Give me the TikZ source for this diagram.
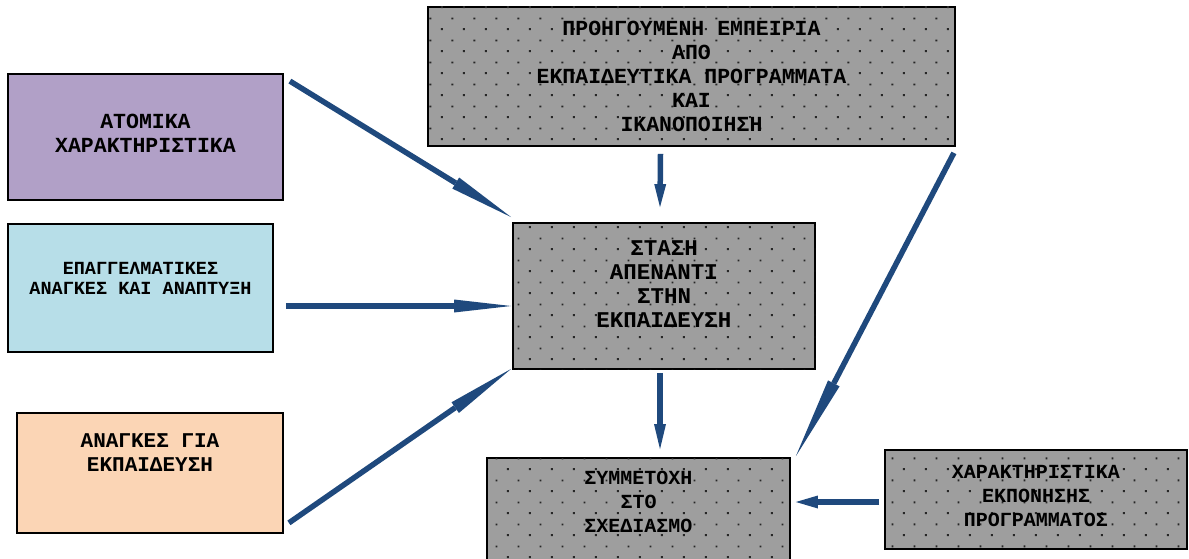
\documentclass[tikz,border=0pt]{standalone}
\usepackage{fontspec}
\usepackage{xcolor}
\setmainfont{Liberation Mono}
\usetikzlibrary{calc,arrows.meta,patterns.meta}
\definecolor{atomcol}{RGB}{177,160,199}
\definecolor{epagcol}{RGB}{183,222,232}
\definecolor{anagcol}{RGB}{251,213,181}
\definecolor{dotgray}{RGB}{158,158,158}
\definecolor{flowblue}{RGB}{31,73,125}
\tikzdeclarepattern{
    name=dotgrid,
    type=uncolored,
    bottom left={(0pt,0pt)},
    top right={(22pt,22pt)},
    tile size={(22pt,22pt)},
    code={\fill (1pt,1pt) rectangle (3pt,3pt); \fill (12pt,12pt) rectangle (14pt,14pt);}
}
\begin{document}
\begin{tikzpicture}[
    x=1pt, y=-1pt,
    every node/.style={draw, rectangle, line width=1.8pt, inner sep=0pt},
    colorbox/.style={fill=#1},
    graybox/.style={fill=dotgray, postaction={pattern=dotgrid, pattern color=black!85}},
    boxtext/.style={draw=none, fill=none, align=center, font=\bfseries\fontsize{#1}{24}\selectfont},
    boxtext/.default=20,
    smalltext/.style={draw=none, fill=none, align=center, font=\bfseries\fontsize{18.5}{20}\selectfont},
    flow/.style={draw=flowblue, line width=5.5pt, fill=flowblue}
]
\useasboundingbox (0,0) rectangle (1189,559);
\node[graybox, minimum width=527pt, minimum height=139pt,
    label={[boxtext=21.5]center:ΠΡΟΗΓΟΥΜΕΝΗ ΕΜΠΕΙΡΙΑ\\ΑΠΟ\\ΕΚΠΑΙΔΕΥΤΙΚΑ ΠΡΟΓΡΑΜΜΑΤΑ\\ΚΑΙ\\ΙΚΑΝΟΠΟΙΗΣΗ}]
    (prev) at (691.5,76.5) {};
\node[colorbox=atomcol, minimum width=275pt, minimum height=126pt,
    label={[boxtext=21.5, yshift=3.5pt]center:ΑΤΟΜΙΚΑ\\ΧΑΡΑΚΤΗΡΙΣΤΙΚΑ}]
    (atomika) at (145.5,137) {};
\node[colorbox=epagcol, minimum width=265pt, minimum height=128pt,
    label={[smalltext, yshift=10pt]center:ΕΠΑΓΓΕΛΜΑΤΙΚΕΣ\\ΑΝΑΓΚΕΣ ΚΑΙ ΑΝΑΠΤΥΞΗ}]
    (epagg) at (140.5,288) {};
\node[colorbox=anagcol, minimum width=266pt, minimum height=120pt,
    label={[boxtext=21, yshift=20pt]center:ΑΝΑΓΚΕΣ ΓΙΑ\\ΕΚΠΑΙΔΕΥΣΗ}]
    (anagkes) at (150,473) {};
\node[graybox, minimum width=302pt, minimum height=146pt,
    label={[boxtext=22.5, yshift=11.5pt]center:ΣΤΑΣΗ\\ΑΠΕΝΑΝΤΙ\\ΣΤΗΝ\\ΕΚΠΑΙΔΕΥΣΗ}]
    (stasi) at (664,296) {};
\node[graybox, minimum width=303pt, minimum height=108pt,
    label={[boxtext, yshift=10pt]center:ΣΥΜΜΕΤΟΧΗ\\ΣΤΟ\\ΣΧΕΔΙΑΣΜΟ}]
    (symm) at (638.5,512) {};
\node[graybox, minimum width=302pt, minimum height=99pt,
    label={[boxtext, yshift=3.5pt]center:ΧΑΡΑΚΤΗΡΙΣΤΙΚΑ\\ΕΚΠΟΝΗΣΗΣ\\ΠΡΟΓΡΑΜΜΑΤΟΣ}]
    (xar) at (1036,499.5) {};
\coordinate (prevtail) at ($(prev.south east)+(-2,6)$);
\draw[flow, -{Triangle[length=65pt,width=13pt,line width=0pt]}] ($(atomika.north east)+(6,8)$) -- ($(stasi.north west)+(-1,-5)$);
\draw[flow, -{Triangle[length=57pt,width=13pt,line width=0pt]}] ($(epagg.east)+(12,18)$) -- ($(stasi.west)+(-1,10)$);
\draw[flow, -{Triangle[length=68pt,width=13pt,line width=0pt]}] ($(anagkes.south east)+(5,-11)$) -- ($(stasi.south west)+(-1,-1)$);
\draw[flow, -{Triangle[length=23pt,width=12pt,line width=0pt]}] ($(prev.south)+(-31,7)$) -- ($(stasi.north)+(-4,-15)$);
\draw[flow, -{Triangle[length=25pt,width=12pt,line width=0pt]}] ($(stasi.south)+(-4,3)$) -- ($(symm.north)+(21.5,-8)$);
\draw[flow, -{Triangle[length=82pt,width=13pt,line width=0pt]}] (prevtail) -- ($(symm.north east)+(5,-1)$);
\draw[flow, -{Triangle[length=22pt,width=13pt,line width=0pt]}] ($(xar.west)+(-5,2.5)$) -- ($(symm.east)+(5,-10)$);
\end{tikzpicture}
\end{document}
